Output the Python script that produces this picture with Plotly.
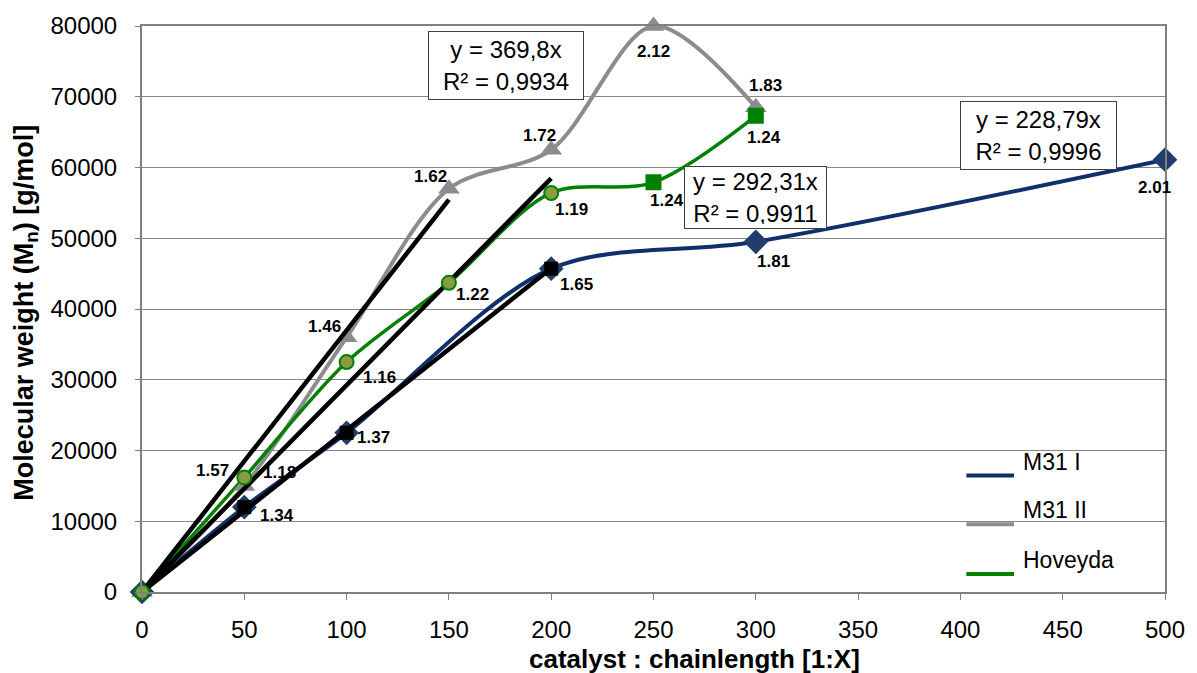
import plotly.graph_objects as go

# Catalyst : chain length ratio (x) vs. number-average molecular weight (y)
m31i_x = [0, 50, 100, 200, 300, 500]
m31i_y = [0, 12000, 22500, 45700, 49500, 61100]
m31i_pdi = ["", "1.34", "1.37", "1.65", "1.81", "2.01"]

m31ii_x = [0, 50, 100, 150, 200, 250, 300]
m31ii_y = [0, 15000, 36000, 57000, 62500, 80000, 68500]
m31ii_pdi = ["", "1.57", "1.46", "1.62", "1.72", "2.12", "1.83"]

hov_x = [0, 50, 100, 150, 200, 250, 300]
hov_y = [0, 16200, 32500, 43700, 56400, 57900, 67300]
hov_pdi = ["", "1.18", "1.16", "1.22", "1.19", "1.24", "1.24"]

# Linear fits through the origin: (slope, R², last x used)
fits = [
    (369.8, "0,9934", 150),
    (292.31, "0,9911", 200),
    (228.79, "0,9996", 200),
]

x_ticks = [0, 50, 100, 150, 200, 250, 300, 350, 400, 450, 500]
y_ticks = [0, 10000, 20000, 30000, 40000, 50000, 60000, 70000, 80000]

NAVY = "#10306B"
NAVY_MK = "#1F3F6A"
GREY = "#8C8C8C"
GREEN = "#008000"
OLIVE = "#8A9A45"

FONT = "Liberation Sans, Arial, sans-serif"
NARROW = "Liberation Sans Narrow, Arial Narrow, Liberation Sans, sans-serif"

# plot-area geometry in pixels (used to place paper-referenced items)
L, R, T, B = 142, 1172, 24, 592


def px(xp):
    return (xp - L) / (R - L)


def py(yp):
    return (B - yp) / (B - T)


fig = go.Figure()

# series lines (smoothed)
for xs, ys, col, w in [(m31ii_x, m31ii_y, GREY, 4),
                       (hov_x, hov_y, GREEN, 3.5),
                       (m31i_x, m31i_y, NAVY, 4)]:
    fig.add_trace(go.Scatter(x=xs, y=ys, mode="lines",
                             line=dict(color=col, width=w, shape="spline", smoothing=0.9),
                             showlegend=False, hoverinfo="skip", cliponaxis=False))

# series markers
fig.add_trace(go.Scatter(x=m31ii_x, y=m31ii_y, mode="markers", name="M31 II",
                         marker=dict(symbol="triangle-up", size=19, color=GREY),
                         showlegend=False, cliponaxis=False))
fig.add_trace(go.Scatter(x=m31i_x, y=m31i_y, mode="markers", name="M31 I",
                         marker=dict(symbol="diamond", size=19, color=NAVY_MK),
                         showlegend=False, cliponaxis=False))

# fitted lines
for slope, r2, xmax in fits:
    fig.add_trace(go.Scatter(x=[0, xmax], y=[0, slope * xmax], mode="lines",
                             line=dict(color="black", width=4.5),
                             showlegend=False, hoverinfo="skip"))

# points used for the M31 I fit
fit_pts = [i for i, v in enumerate(m31i_x) if 0 < v <= 200]
fig.add_trace(go.Scatter(x=[m31i_x[i] for i in fit_pts], y=[m31i_y[i] for i in fit_pts],
                         mode="markers", marker=dict(symbol="square", size=14, color="black"),
                         showlegend=False, hoverinfo="skip"))

hov_sym = ["circle" if v <= 200 else "square" for v in hov_x]
hov_fill = [OLIVE if v <= 200 else GREEN for v in hov_x]
fig.add_trace(go.Scatter(x=hov_x, y=hov_y, mode="markers", name="Hoveyda",
                         marker=dict(symbol=hov_sym, size=14, color=hov_fill,
                                     line=dict(color=GREEN, width=2)),
                         showlegend=False, cliponaxis=False))

# fit equation boxes: centre (px) and outer size (px)
box_geo = [((508, 64), (156, 69)), ((760, 196), (143, 63)), ((1045, 134), (157, 69))]
for (slope, r2, _), ((bx, by), (bw, bh)) in zip(fits, box_geo):
    s = f"{slope:g}".replace(".", ",")
    fig.add_annotation(xref="paper", yref="paper", x=px(bx), y=py(by),
                       xanchor="center", yanchor="middle", showarrow=False,
                       text=f"y = {s}x<br>R² = {r2}", align="center",
                       width=bw - 10, height=bh - 10,
                       font=dict(family=FONT, size=24, color="black"),
                       bgcolor="white", bordercolor="#404040", borderwidth=1,
                       borderpad=4)

# PDI labels next to the points (pixel offsets dx right, dy down)
m31i_off = [(0, 0), (33, 8), (27, 5), (25, 16), (18, 20), (-11, 28)]
m31ii_off = [(0, 0), (-32, -15), (-22, -11), (-18, -12), (-12, -14), (0, 25), (10, -22)]
hov_off = [(0, 0), (35, -5), (33, 15), (24, 12), (20, 17), (13, 18), (8, 22)]

for xs, ys, labels, offs in [(m31i_x, m31i_y, m31i_pdi, m31i_off),
                             (m31ii_x, m31ii_y, m31ii_pdi, m31ii_off),
                             (hov_x, hov_y, hov_pdi, hov_off)]:
    for xv, yv, t, (dx, dy) in zip(xs, ys, labels, offs):
        if not t:
            continue
        fig.add_annotation(x=xv, y=yv, text=f"<b>{t}</b>", showarrow=False,
                           xshift=dx, yshift=-dy,
                           font=dict(family=NARROW, size=17, color="black"))

# legend
legend_items = [("M31 I", NAVY, 475, 462), ("M31 II", GREY, 524, 510), ("Hoveyda", GREEN, 574, 560)]
for name, col, ly, ty in legend_items:
    fig.add_shape(type="line", xref="paper", yref="paper",
                  x0=px(972), x1=px(1020), y0=py(ly), y1=py(ly),
                  line=dict(color=col, width=4))
    fig.add_annotation(xref="paper", yref="paper", x=px(1027), y=py(ty),
                       xanchor="left", yanchor="middle", showarrow=False,
                       text=name, font=dict(family=FONT, size=23, color="black"))

# axis titles
fig.add_annotation(xref="paper", yref="paper", x=px(867), y=py(659),
                   xanchor="right", yanchor="middle", showarrow=False,
                   text="<b>catalyst : chainlength [1:X]</b>",
                   font=dict(family=FONT, size=26, color="black"))
fig.add_annotation(xref="paper", yref="paper", x=px(25), y=py(312),
                   xanchor="center", yanchor="middle", showarrow=False, textangle=-90,
                   text="<b>Molecular weight (M<sub>n</sub>) [g/mol]</b>",
                   font=dict(family=FONT, size=27, color="black"))

fig.update_xaxes(range=[0, 500], tickmode="array", tickvals=x_ticks,
                 ticktext=[str(v) for v in x_ticks],
                 showgrid=False, zeroline=False,
                 showline=True, mirror=True, linecolor="#808080", linewidth=2,
                 ticks="outside", ticklen=6, tickcolor="#808080",
                 ticklabelstandoff=9,
                 tickfont=dict(family=FONT, size=24, color="black"))
fig.update_yaxes(range=[0, 80000], tickmode="array", tickvals=y_ticks,
                 ticktext=[str(v) for v in y_ticks],
                 showgrid=True, gridcolor="#868686", gridwidth=1, zeroline=False,
                 showline=True, mirror=True, linecolor="#808080", linewidth=2,
                 ticks="outside", ticklen=5, tickcolor="#808080",
                 ticklabelstandoff=13,
                 tickfont=dict(family=FONT, size=24, color="black"))

fig.update_layout(width=1197, height=673, autosize=False,
                  margin=dict(l=L, r=1197 - R, t=T, b=673 - B),
                  plot_bgcolor="white", paper_bgcolor="white",
                  showlegend=False)

fig.write_html("out.html")
